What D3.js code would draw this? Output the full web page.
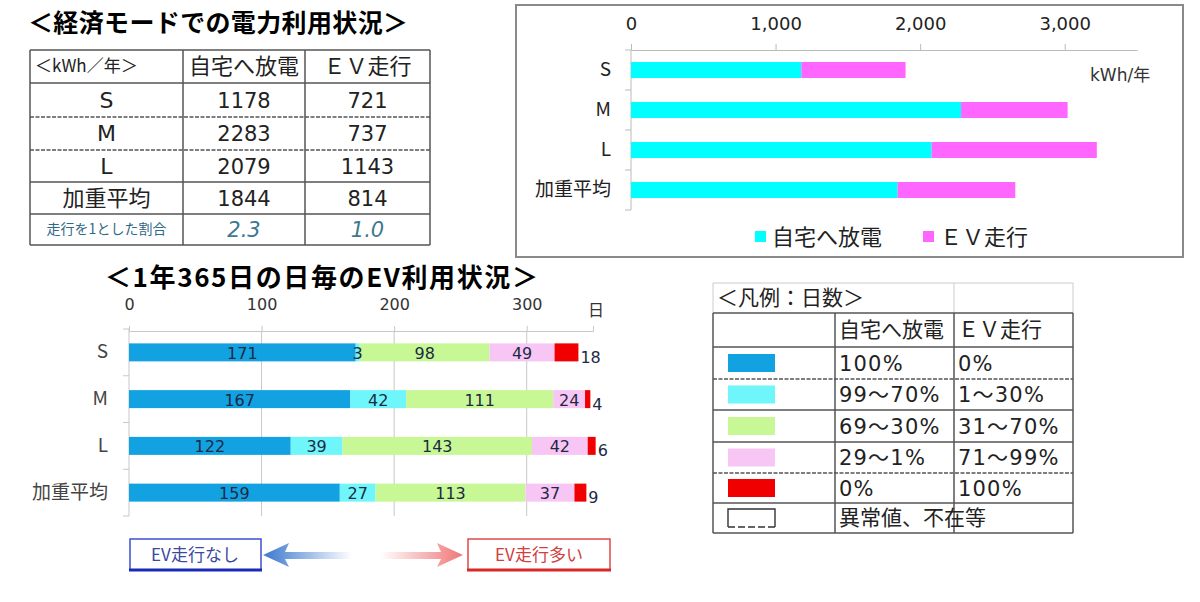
<!DOCTYPE html>
<html>
<head>
<meta charset="utf-8">
<script src="https://cdn.jsdelivr.net/npm/d3@7"></script>
<style>
  body { margin: 0; background: #fff; }
  svg { display: block; }
</style>
</head>
<body>
<svg id="chart" width="1200" height="602"></svg>
<script>
// data
let sizes = ["S", "M", "L", "加重平均"];
let homeKWh = [1178, 2283, 2079, 1844];
let evKWh = [721, 737, 1143, 814];
let ratioLabel = "走行を1とした割合";
let ratioValues = ["2.3", "1.0"];
let kwhTicks = [0, 1000, 2000, 3000];

let dayKeys = ["d100", "d99", "d69", "d29", "d0"];
let days100 = [171, 167, 122, 159];
let days99to70 = [3, 42, 39, 27];
let days69to30 = [98, 111, 143, 113];
let days29to1 = [49, 24, 42, 37];
let days0 = [18, 4, 6, 9];
let dayTicks = [0, 100, 200, 300];

let legendHome = ["100%", "99～70%", "69～30%", "29～1%", "0%"];
let legendEV = ["0%", "1～30%", "31～70%", "71～99%", "100%"];

let JP = '"Noto Sans CJK JP", sans-serif';
let LAT = '"DejaVu Sans", "Noto Sans CJK JP", sans-serif';
let dayColors = ["#12a2e2", "#6ff6fb", "#c8f795", "#f8c6f4", "#f00000"];

let svg = d3.select("#chart");
svg.append("rect").attr("width", 1200).attr("height", 602).attr("fill", "#fff");

// ---------- table: 経済モード ----------
let tCols = [30, 183, 305, 430];
let tRows = [50, 83, 117, 150, 182, 214, 245];
let t = svg.append("g");

t.append("text").attr("x", 28).attr("y", 32)
    .attr("font-family", JP).attr("font-size", 25).attr("font-weight", "bold")
    .attr("textLength", 380).attr("lengthAdjust", "spacing")
    .text("＜経済モードでの電力利用状況＞");

tRows.forEach((y, i) => {
    t.append("line").attr("x1", tCols[0]).attr("x2", tCols[3]).attr("y1", y).attr("y2", y)
        .attr("stroke", "#555").attr("stroke-width", 1.5)
        .attr("stroke-dasharray", (i == 2 || i == 3) ? "4,1.5" : null);
});
tCols.forEach(x => {
    t.append("line").attr("x1", x).attr("x2", x).attr("y1", tRows[0]).attr("y2", tRows[6])
        .attr("stroke", "#555").attr("stroke-width", 1.5);
});
let cx = i => (tCols[i] + tCols[i + 1]) / 2;
let cy = i => (tRows[i] + tRows[i + 1]) / 2;

t.append("text").attr("x", 35).attr("y", cy(0)).attr("dy", "0.35em")
    .attr("font-family", JP).attr("font-size", 17).attr("fill", "#222").text("＜kWh／年＞");
t.append("text").attr("x", cx(1)).attr("y", cy(0)).attr("dy", "0.35em").attr("text-anchor", "middle")
    .attr("font-family", JP).attr("font-size", 22).attr("fill", "#222").text("自宅へ放電");
t.append("text").attr("x", cx(2)).attr("y", cy(0)).attr("dy", "0.35em").attr("text-anchor", "middle")
    .attr("font-family", JP).attr("font-size", 22).attr("fill", "#222").text("ＥＶ走行");

sizes.forEach((s, i) => {
    t.append("text").attr("x", cx(0)).attr("y", cy(i + 1)).attr("dy", "0.35em").attr("text-anchor", "middle")
        .attr("font-family", s.length > 1 ? JP : LAT).attr("font-size", 22).attr("fill", "#222").text(s);
    t.append("text").attr("x", cx(1)).attr("y", cy(i + 1)).attr("dy", "0.36em").attr("text-anchor", "middle")
        .attr("font-family", LAT).attr("font-size", 21).attr("fill", "#222").text(homeKWh[i]);
    t.append("text").attr("x", cx(2)).attr("y", cy(i + 1)).attr("dy", "0.36em").attr("text-anchor", "middle")
        .attr("font-family", LAT).attr("font-size", 21).attr("fill", "#222").text(evKWh[i]);
});
t.append("text").attr("x", cx(0)).attr("y", cy(5)).attr("dy", "0.35em").attr("text-anchor", "middle")
    .attr("font-family", JP).attr("font-size", 14).attr("fill", "#2f6a86").text(ratioLabel);
ratioValues.forEach((v, i) => {
    t.append("text").attr("x", cx(i + 1)).attr("y", cy(5)).attr("dy", "0.36em").attr("text-anchor", "middle")
        .attr("font-family", LAT).attr("font-size", 21).attr("font-style", "italic").attr("fill", "#3f7890").text(v);
});

// ---------- top right chart: kWh stacked ----------
let topChart = svg.append("g");
topChart.append("rect").attr("x", 516).attr("y", 5).attr("width", 667).attr("height", 252)
    .attr("fill", "none").attr("stroke", "#8a8a8a").attr("stroke-width", 2);

let xTop = d3.scaleLinear().domain([0, 3500]).range([631, 1137]);
let yTop = d3.scaleBand().domain(sizes).range([50, 210]).paddingInner(0.6).paddingOuter(0.3);

let topAxis = topChart.append("g").attr("transform", "translate(0,50)")
    .call(d3.axisTop(xTop).tickValues(kwhTicks).tickFormat(d3.format(",")).tickSizeOuter(0).tickPadding(14));
topAxis.select(".domain").attr("stroke", "#bbb");
topAxis.selectAll(".tick line").attr("stroke", "#bbb");
topAxis.selectAll(".tick text").attr("font-family", LAT).attr("font-size", 18).attr("fill", "#222");

let leftAxis = topChart.append("g").attr("transform", "translate(631,0)")
    .call(d3.axisLeft(yTop).tickSize(0).tickPadding(20));
leftAxis.select(".domain").remove();
leftAxis.selectAll(".tick text").attr("font-family", JP).attr("font-size", 19).attr("fill", "#222");
let topGap = (yTop.step() - yTop.bandwidth()) / 2;
let topBounds = sizes.map(s => yTop(s) - topGap).concat([yTop(sizes[3]) + yTop.bandwidth() + topGap]);
topChart.append("line").attr("x1", 631).attr("x2", 631).attr("y1", topBounds[0]).attr("y2", topBounds[4]).attr("stroke", "#bbb");
topChart.selectAll(".ytick").data(topBounds).join("line")
    .attr("x1", 625).attr("x2", 631).attr("y1", d => d).attr("y2", d => d).attr("stroke", "#bbb");

topChart.selectAll(".home").data(sizes).join("rect")
    .attr("x", xTop(0)).attr("y", d => yTop(d)).attr("height", yTop.bandwidth())
    .attr("width", (d, i) => xTop(homeKWh[i]) - xTop(0)).attr("fill", "#00ffff");
topChart.selectAll(".ev").data(sizes).join("rect")
    .attr("x", (d, i) => xTop(homeKWh[i])).attr("y", d => yTop(d)).attr("height", yTop.bandwidth())
    .attr("width", (d, i) => xTop(homeKWh[i] + evKWh[i]) - xTop(homeKWh[i])).attr("fill", "#ff66ff");

topChart.append("text").attr("x", 1090).attr("y", 75).attr("dy", "0.35em")
    .attr("font-family", LAT).attr("font-size", 17).attr("fill", "#333").text("kWh/年");

topChart.append("rect").attr("x", 755).attr("y", 231).attr("width", 11).attr("height", 11).attr("fill", "#00ffff");
topChart.append("text").attr("x", 772).attr("y", 237).attr("dy", "0.35em")
    .attr("font-family", JP).attr("font-size", 22).attr("fill", "#222").text("自宅へ放電");
topChart.append("rect").attr("x", 923).attr("y", 231).attr("width", 11).attr("height", 11).attr("fill", "#ff66ff");
topChart.append("text").attr("x", 940).attr("y", 237).attr("dy", "0.35em")
    .attr("font-family", JP).attr("font-size", 22).attr("fill", "#222").text("ＥＶ走行");

// ---------- bottom left chart: days ----------
let bot = svg.append("g");
bot.append("text").attr("x", 105).attr("y", 287)
    .attr("font-family", JP).attr("font-size", 26).attr("font-weight", "bold")
    .attr("textLength", 433).attr("lengthAdjust", "spacing")
    .text("＜1年365日の日毎のEV利用状況＞");

let xDay = d3.scaleLinear().domain([0, 350]).range([129, 593]);
let yDay = d3.scaleBand().domain(sizes).range([329, 516]).paddingInner(0.615).paddingOuter(0.3075);

bot.selectAll(".grid").data(dayTicks.slice(1)).join("line")
    .attr("x1", d => xDay(d)).attr("x2", d => xDay(d)).attr("y1", 331).attr("y2", 516)
    .attr("stroke", "#c8c8c8");

let dayAxis = bot.append("g").attr("transform", "translate(0,331)")
    .call(d3.axisTop(xDay).tickValues(dayTicks).tickSizeOuter(0).tickSize(5).tickPadding(16));
dayAxis.select(".domain").attr("stroke", "#c8c8c8");
dayAxis.selectAll(".tick line").attr("stroke", "#c8c8c8");
dayAxis.selectAll(".tick text").attr("font-family", LAT).attr("font-size", 16).attr("fill", "#333");
bot.append("text").attr("x", 596).attr("y", 310).attr("dy", "0.35em").attr("text-anchor", "middle")
    .attr("font-family", JP).attr("font-size", 16).attr("fill", "#333").text("日");

let dayLeft = bot.append("g").attr("transform", "translate(129,0)")
    .call(d3.axisLeft(yDay).tickSize(0).tickPadding(21));
dayLeft.select(".domain").remove();
dayLeft.selectAll(".tick text").attr("font-family", JP).attr("font-size", 19).attr("fill", "#444");
let dayGap = (yDay.step() - yDay.bandwidth()) / 2;
let dayBounds = sizes.map(s => yDay(s) - dayGap).concat([yDay(sizes[3]) + yDay.bandwidth() + dayGap]);
bot.append("line").attr("x1", 129).attr("x2", 129).attr("y1", dayBounds[0]).attr("y2", dayBounds[4]).attr("stroke", "#c8c8c8");
bot.selectAll(".ytick").data(dayBounds).join("line")
    .attr("x1", 123).attr("x2", 129).attr("y1", d => d).attr("y2", d => d).attr("stroke", "#c8c8c8");

let dayTable = sizes.map((s, i) => ({
    size: s, d100: days100[i], d99: days99to70[i], d69: days69to30[i], d29: days29to1[i], d0: days0[i]
}));
let stacked = d3.stack().keys(dayKeys)(dayTable);

let layers = bot.selectAll(".layer").data(stacked).join("g")
    .attr("fill", (d, i) => dayColors[i]);
layers.selectAll("rect").data(d => d).join("rect")
    .attr("x", d => xDay(d[0])).attr("y", d => yDay(d.data.size))
    .attr("width", d => xDay(d[1]) - xDay(d[0])).attr("height", yDay.bandwidth());

stacked.forEach((layer, li) => {
    layer.forEach(d => {
        let v = d[1] - d[0];
        let last = li == dayKeys.length - 1;
        bot.append("text")
            .attr("x", last ? xDay(d[1]) + 2 : (xDay(d[0]) + xDay(d[1])) / 2)
            .attr("y", yDay(d.data.size) + yDay.bandwidth() / 2 + (last ? 5 : 1))
            .attr("dy", "0.35em")
            .attr("text-anchor", last ? "start" : "middle")
            .attr("font-family", LAT).attr("font-size", 16).attr("fill", "#1c2a44")
            .text(v);
    });
});

// arrows
let defs = svg.append("defs");
let gl = defs.append("linearGradient").attr("id", "gBlue")
    .attr("gradientUnits", "userSpaceOnUse").attr("x1", 270).attr("x2", 352).attr("y1", 0).attr("y2", 0);
gl.append("stop").attr("offset", 0).attr("stop-color", "#4a82d2").attr("stop-opacity", 1);
gl.append("stop").attr("offset", 1).attr("stop-color", "#4a82d2").attr("stop-opacity", 0);
let gr = defs.append("linearGradient").attr("id", "gRed")
    .attr("gradientUnits", "userSpaceOnUse").attr("x1", 380).attr("x2", 460).attr("y1", 0).attr("y2", 0);
gr.append("stop").attr("offset", 0).attr("stop-color", "#f07c7c").attr("stop-opacity", 0);
gr.append("stop").attr("offset", 1).attr("stop-color", "#f07c7c").attr("stop-opacity", 1);

bot.append("path").attr("fill", "url(#gBlue)")
    .attr("d", "M263,555 L289,543 L285,552 L352,552 L352,559 L285,559 L289,567 Z");
bot.append("path").attr("fill", "url(#gRed)")
    .attr("d", "M463,555 L437,543 L441,552 L380,552 L380,559 L441,559 L437,567 Z");

bot.append("rect").attr("x", 130).attr("y", 539).attr("width", 131).attr("height", 31)
    .attr("fill", "#fff").attr("stroke", "#3c50d0").attr("stroke-width", 1.5);
bot.append("line").attr("x1", 129).attr("x2", 262).attr("y1", 570).attr("y2", 570)
    .attr("stroke", "#1a2ab8").attr("stroke-width", 3);
bot.append("text").attr("x", 195).attr("y", 555).attr("dy", "0.35em").attr("text-anchor", "middle")
    .attr("font-family", JP).attr("font-size", 17).attr("fill", "#3a4aa0").text("EV走行なし");

bot.append("rect").attr("x", 468).attr("y", 539).attr("width", 142).attr("height", 31)
    .attr("fill", "#fff").attr("stroke", "#e04848").attr("stroke-width", 1.5);
bot.append("line").attr("x1", 467).attr("x2", 611).attr("y1", 570).attr("y2", 570)
    .attr("stroke", "#d82828").attr("stroke-width", 3);
bot.append("text").attr("x", 539).attr("y", 555).attr("dy", "0.35em").attr("text-anchor", "middle")
    .attr("font-family", JP).attr("font-size", 17).attr("fill", "#d04040").text("EV走行多い");

// ---------- legend table ----------
let lCols = [713, 835, 954, 1073];
let lRows = [283, 313, 347, 379, 410, 442, 473, 503, 533];
let lg = svg.append("g");

lg.append("line").attr("x1", lCols[0]).attr("x2", lCols[3]).attr("y1", lRows[0]).attr("y2", lRows[0]).attr("stroke", "#ccc");
[lCols[0], lCols[2], lCols[3]].forEach(x => {
    lg.append("line").attr("x1", x).attr("x2", x).attr("y1", lRows[0]).attr("y2", lRows[1]).attr("stroke", "#ccc");
});
lRows.slice(1).forEach((y, i) => {
    lg.append("line").attr("x1", lCols[0]).attr("x2", lCols[3]).attr("y1", y).attr("y2", y)
        .attr("stroke", "#555").attr("stroke-width", 1.5)
        .attr("stroke-dasharray", (i == 2 || i == 5) ? "4,1.5" : null);
});
lCols.forEach(x => {
    lg.append("line").attr("x1", x).attr("x2", x).attr("y1", lRows[1]).attr("y2", lRows[8])
        .attr("stroke", "#555").attr("stroke-width", 1.5);
});
let lcy = i => (lRows[i] + lRows[i + 1]) / 2;

lg.append("text").attr("x", 717).attr("y", lcy(0)).attr("dy", "0.35em")
    .attr("font-family", JP).attr("font-size", 21).attr("fill", "#222").text("＜凡例：日数＞");
lg.append("text").attr("x", 839).attr("y", lcy(1)).attr("dy", "0.35em")
    .attr("font-family", JP).attr("font-size", 21).attr("fill", "#222").text("自宅へ放電");
lg.append("text").attr("x", 958).attr("y", lcy(1)).attr("dy", "0.35em")
    .attr("font-family", JP).attr("font-size", 21).attr("fill", "#222").text("ＥＶ走行");

legendHome.forEach((v, i) => {
    lg.append("rect").attr("x", 728).attr("y", lcy(i + 2) - 9).attr("width", 47).attr("height", 18)
        .attr("fill", dayColors[i]);
    lg.append("text").attr("x", 839).attr("y", lcy(i + 2)).attr("dy", "0.36em")
        .attr("font-family", LAT).attr("font-size", 21).attr("letter-spacing", 1.2).attr("fill", "#222").text(v);
    lg.append("text").attr("x", 958).attr("y", lcy(i + 2)).attr("dy", "0.36em")
        .attr("font-family", LAT).attr("font-size", 21).attr("letter-spacing", 1.2).attr("fill", "#222").text(legendEV[i]);
});
// 異常値 swatch: solid top/sides, dashed bottom
let sy = lcy(7) - 9;
lg.append("path").attr("fill", "#fff").attr("stroke", "#333").attr("stroke-width", 1.4)
    .attr("d", `M728,${sy + 18} L728,${sy} L775,${sy} L775,${sy + 18}`);
lg.append("line").attr("x1", 728).attr("x2", 775).attr("y1", sy + 18).attr("y2", sy + 18)
    .attr("stroke", "#333").attr("stroke-width", 1.4).attr("stroke-dasharray", "7,3");
lg.append("text").attr("x", 839).attr("y", lcy(7)).attr("dy", "0.35em")
    .attr("font-family", JP).attr("font-size", 21).attr("fill", "#222").text("異常値、不在等");
</script>
</body>
</html>
